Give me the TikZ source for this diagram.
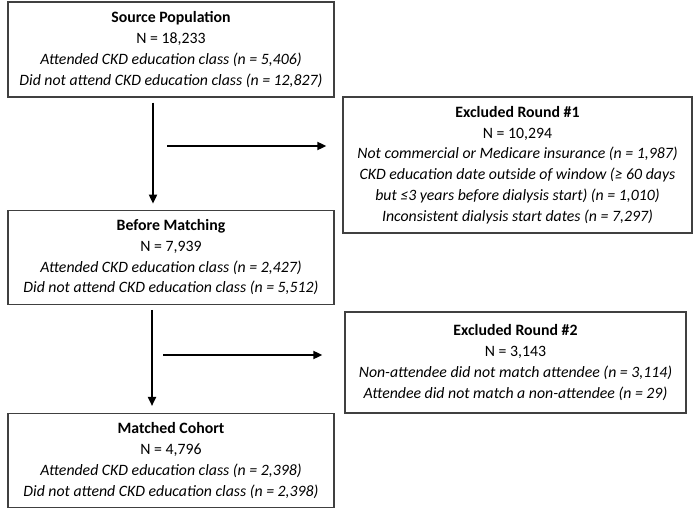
\documentclass[tikz,border=0pt]{standalone}
\usepackage{fontspec}
\setmainfont{Carlito}
\usetikzlibrary{arrows.meta, positioning}

\begin{document}
\begin{tikzpicture}[
    x=1pt, y=-1pt,
    node distance=112pt and 9pt,
    % Stili dei nodi
    stage/.style={rectangle, draw=black!75, line width=1.3pt, minimum width=326pt, minimum height=94pt, inner sep=0pt, align=center, font=\fontsize{15.8}{20.8}\selectfont},
    excl/.style={stage, minimum width=#1},
    arrow/.style={-{Triangle[length=9pt, width=8pt]}, line width=1.8pt}
]
    \useasboundingbox (0,0) rectangle (696,508);

    % ==================== COLONNA PRINCIPALE ====================
    \node [stage, minimum height=95pt] (src) at (171,49.5) {\textbf{Source Population} \\ N = 18,233 \\ \textit{Attended CKD education class (n = 5,406)} \\ \textit{Did not attend CKD education class (n = 12,827)}};
    \node [stage, below=112pt of src] (before) {\textbf{Before Matching} \\ N = 7,939 \\ \textit{Attended CKD education class (n = 2,427)} \\ \textit{Did not attend CKD education class (n = 5,512)}};
    \node [stage, below=108pt of before] (matched) {\textbf{Matched Cohort} \\ N = 4,796 \\ \textit{Attended CKD education class (n = 2,398)} \\ \textit{Did not attend CKD education class (n = 2,398)}};

    % ==================== ESCLUSIONI ====================
    \node [excl=349pt, minimum height=136pt] (excl1) at (517.5,165) {\textbf{Excluded Round \#1} \\ N = 10,294 \\ \textit{Not commercial or Medicare insurance (n = 1,987)} \\ \textit{CKD education date outside of window (≥ 60 days} \\ \textit{but ≤3 years before dialysis start) (n = 1,010)} \\ \textit{Inconsistent dialysis start dates (n = 7,297)}};
    \node [excl=341pt, minimum height=101pt] (excl2) at (515.5,362.5) {\textbf{Excluded Round \#2} \\ N = 3,143 \\ \textit{Non-attendee did not match attendee (n = 3,114)} \\ \textit{Attendee did not match a non-attendee (n = 29)}};

    % Estremi liberi delle frecce orizzontali
    \coordinate (cut1) at (167,146);
    \coordinate (cut2) at (163,355);

    % Flusso verticale
    \draw [arrow] ([xshift=-18pt, yshift=-5pt]src.south) -- ([xshift=-18pt, yshift=6pt]before.north);
    \draw [arrow] ([xshift=-19pt, yshift=-5pt]before.south) -- ([xshift=-19pt, yshift=7pt]matched.north);

    % Frecce verso le esclusioni
    \draw [arrow] (cut1) -- ([xshift=-16pt]cut1 -| excl1.west);
    \draw [arrow] (cut2) -- ([xshift=-22pt]cut2 -| excl2.west);

\end{tikzpicture}
\end{document}
